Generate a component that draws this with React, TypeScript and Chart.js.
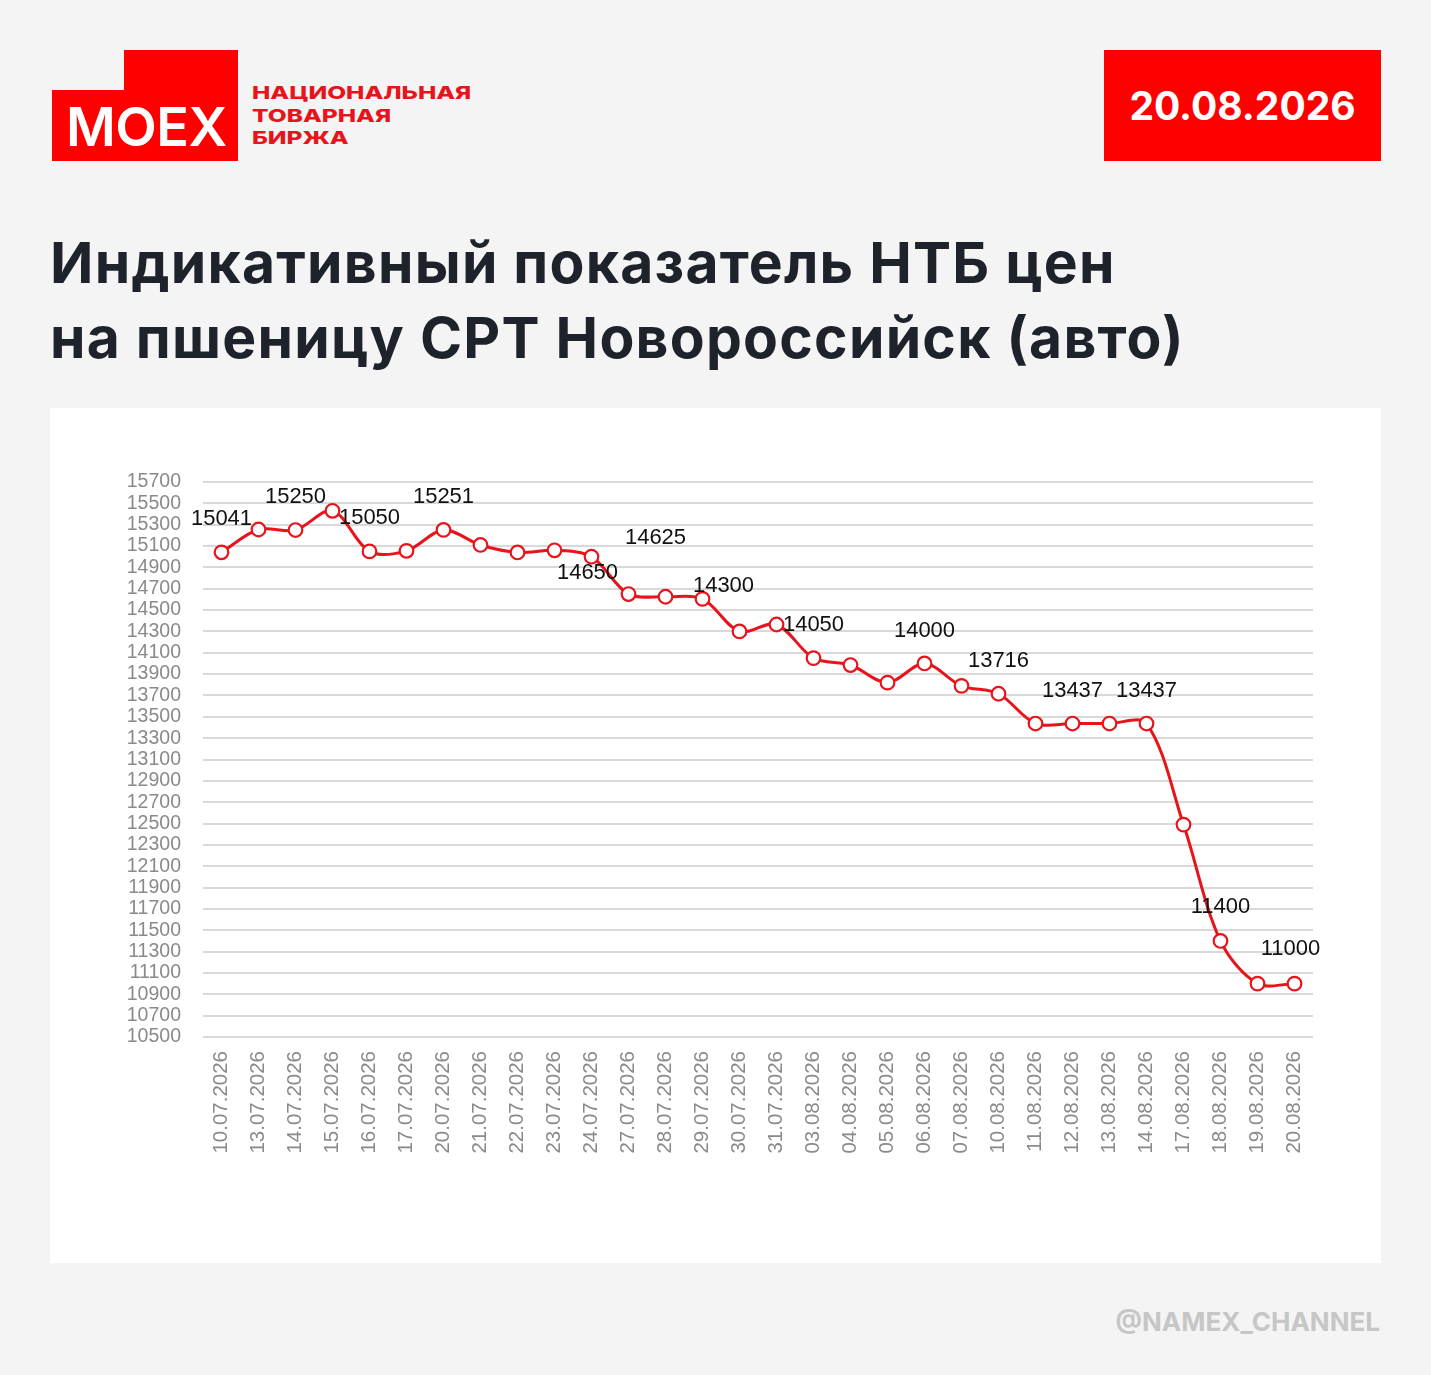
import React, { useEffect, useRef } from "react";
import { Chart, registerables } from "chart.js";

Chart.register(...registerables);

const DATES = [
  "10.07.2026", "13.07.2026", "14.07.2026", "15.07.2026", "16.07.2026", "17.07.2026",
  "20.07.2026", "21.07.2026", "22.07.2026", "23.07.2026", "24.07.2026", "27.07.2026",
  "28.07.2026", "29.07.2026", "30.07.2026", "31.07.2026", "03.08.2026", "04.08.2026",
  "05.08.2026", "06.08.2026", "07.08.2026", "10.08.2026", "11.08.2026", "12.08.2026",
  "13.08.2026", "14.08.2026", "17.08.2026", "18.08.2026", "19.08.2026", "20.08.2026",
];

const PRICES = [
  15041, 15255, 15250, 15430, 15050, 15055,
  15251, 15110, 15040, 15060, 15000, 14650,
  14625, 14605, 14300, 14365, 14050, 13985,
  13820, 14000, 13790, 13716, 13437, 13437,
  13437, 13437, 12490, 11400, 11000, 11000,
];

const LABELED_INDICES = [0, 2, 4, 6, 11, 12, 14, 16, 19, 21, 23, 25, 27, 29];

const Y_MIN = 10500;
const Y_MAX = 15700;
const Y_STEP = 200;

const TITLE_LINES = [
  "Индикативный показатель НТБ цен",
  "на пшеницу СРТ Новороссийск (авто)",
];
const REPORT_DATE = "20.08.2026";
const LOGO_TEXT = "MOEX";
const LOGO_CAPTION = ["НАЦИОНАЛЬНАЯ", "ТОВАРНАЯ", "БИРЖА"];
const WATERMARK = "@NAMEX_CHANNEL";

const RED = "#ff0000";
const LINE_RED = "#e8141c";

// label offsets (px) relative to the point, styling only
const LABEL_OFFSETS: Record<number, [number, number]> = {
  11: [-41, -21],
  12: [-10, -59],
  14: [-16, -45],
  27: [0, -34],
  29: [-4, -35],
};

const pointLabelPlugin = {
  id: "pointLabels",
  afterDatasetsDraw(chart: any) {
    const meta = chart.getDatasetMeta(0);
    const ctx = chart.ctx;
    ctx.save();
    ctx.font = '22px "Liberation Sans", Arial, sans-serif';
    ctx.fillStyle = "#111111";
    ctx.textAlign = "center";
    ctx.textBaseline = "middle";
    LABELED_INDICES.forEach((i) => {
      const el = meta.data[i];
      if (!el) return;
      const off = LABEL_OFFSETS[i] || [0, -33];
      ctx.fillText(String(PRICES[i]), el.x + off[0], el.y + off[1]);
    });
    ctx.restore();
  },
};

export default function App() {
  const canvasRef = useRef<HTMLCanvasElement | null>(null);

  useEffect(() => {
    document.body.style.margin = "0";
    const canvas = canvasRef.current;
    if (!canvas) return;
    const chart = new Chart(canvas, {
      type: "line",
      data: {
        labels: DATES,
        datasets: [
          {
            data: PRICES,
            borderColor: LINE_RED,
            borderWidth: 3,
            backgroundColor: "#ffffff",
            pointBackgroundColor: "#ffffff",
            pointBorderColor: LINE_RED,
            pointBorderWidth: 2.2,
            pointRadius: 6.8,
            tension: 0.33,
            fill: false,
          },
        ],
      },
      options: {
        animation: false,
        responsive: false,
        devicePixelRatio: 1,
        layout: { padding: { left: 0, right: 68, top: 74, bottom: 0 } },
        plugins: {
          legend: { display: false },
          tooltip: { enabled: false },
          title: { display: false },
        },
        scales: {
          x: {
            type: "category",
            offset: true,
            grid: { display: false, drawTicks: false },
            border: { display: false },
            ticks: {
              color: "#8a8a8a",
              font: { family: '"Liberation Sans", Arial, sans-serif', size: 20.5 },
              minRotation: 90,
              maxRotation: 90,
              padding: 14,
              autoSkip: false,
            },
            afterFit(scale: any) {
              scale.height = 226;
            },
          },
          y: {
            min: Y_MIN,
            max: Y_MAX,
            grid: { color: "#d9d9d9", lineWidth: 2, drawTicks: false },
            border: { display: false },
            ticks: {
              stepSize: Y_STEP,
              color: "#8a8a8a",
              font: { family: '"Liberation Sans", Arial, sans-serif', size: 19.5 },
              padding: 22,
              autoSkip: false,
              callback: (v: any) => String(v),
            },
            afterFit(scale: any) {
              scale.width = 153;
            },
          },
        },
      } as any,
      plugins: [pointLabelPlugin],
    });
    return () => chart.destroy();
  }, []);

  return (
    <div
      style={{
        position: "relative",
        width: 1431,
        height: 1375,
        background: "#f4f4f4",
        overflow: "hidden",
        fontFamily: "Inter, 'Noto Sans', sans-serif",
      }}
    >
      {/* Logo */}
      <div style={{ position: "absolute", left: 124, top: 50, width: 114, height: 41, background: RED }} />
      <div style={{ position: "absolute", left: 52, top: 90, width: 186, height: 71, background: RED }} />
      <div
        style={{
          position: "absolute",
          left: 66,
          top: 100,
          fontSize: 54,
          lineHeight: "54px",
          fontWeight: 600,
          color: "#ffffff",
          letterSpacing: -0.5,
          whiteSpace: "nowrap",
        }}
      >
        {LOGO_TEXT}
      </div>
      <div
        style={{
          position: "absolute",
          left: 252,
          top: 82,
          fontSize: 18,
          lineHeight: "22.5px",
          fontWeight: 800,
          color: "#e8141c",
          whiteSpace: "nowrap",
          transform: "scaleX(1.36)",
          transformOrigin: "left top",
        }}
      >
        {LOGO_CAPTION.map((l) => (
          <div key={l}>{l}</div>
        ))}
      </div>

      {/* Date box */}
      <div
        style={{
          position: "absolute",
          left: 1104,
          top: 50,
          width: 277,
          height: 111,
          background: RED,
          color: "#ffffff",
          display: "flex",
          alignItems: "center",
          justifyContent: "center",
          fontSize: 39,
          fontWeight: 700,
        }}
      >
        {REPORT_DATE}
      </div>

      {/* Title */}
      <div
        style={{
          position: "absolute",
          left: 50,
          top: 225,
          fontSize: 57,
          lineHeight: "75px",
          fontWeight: 700,
          letterSpacing: 1.25,
          color: "#1e222b",
          whiteSpace: "nowrap",
        }}
      >
        {TITLE_LINES.map((l) => (
          <div key={l}>{l}</div>
        ))}
      </div>

      {/* Chart panel */}
      <div style={{ position: "absolute", left: 50, top: 408, width: 1331, height: 855, background: "#ffffff" }}>
        <canvas ref={canvasRef} width={1331} height={855} style={{ display: "block", width: 1331, height: 855 }} />
      </div>

      {/* Watermark */}
      <div
        style={{
          position: "absolute",
          right: 51,
          top: 1309,
          fontSize: 26,
          lineHeight: "26px",
          fontWeight: 700,
          color: "#c6c6c6",
          whiteSpace: "nowrap",
        }}
      >
        {WATERMARK}
      </div>
    </div>
  );
}
